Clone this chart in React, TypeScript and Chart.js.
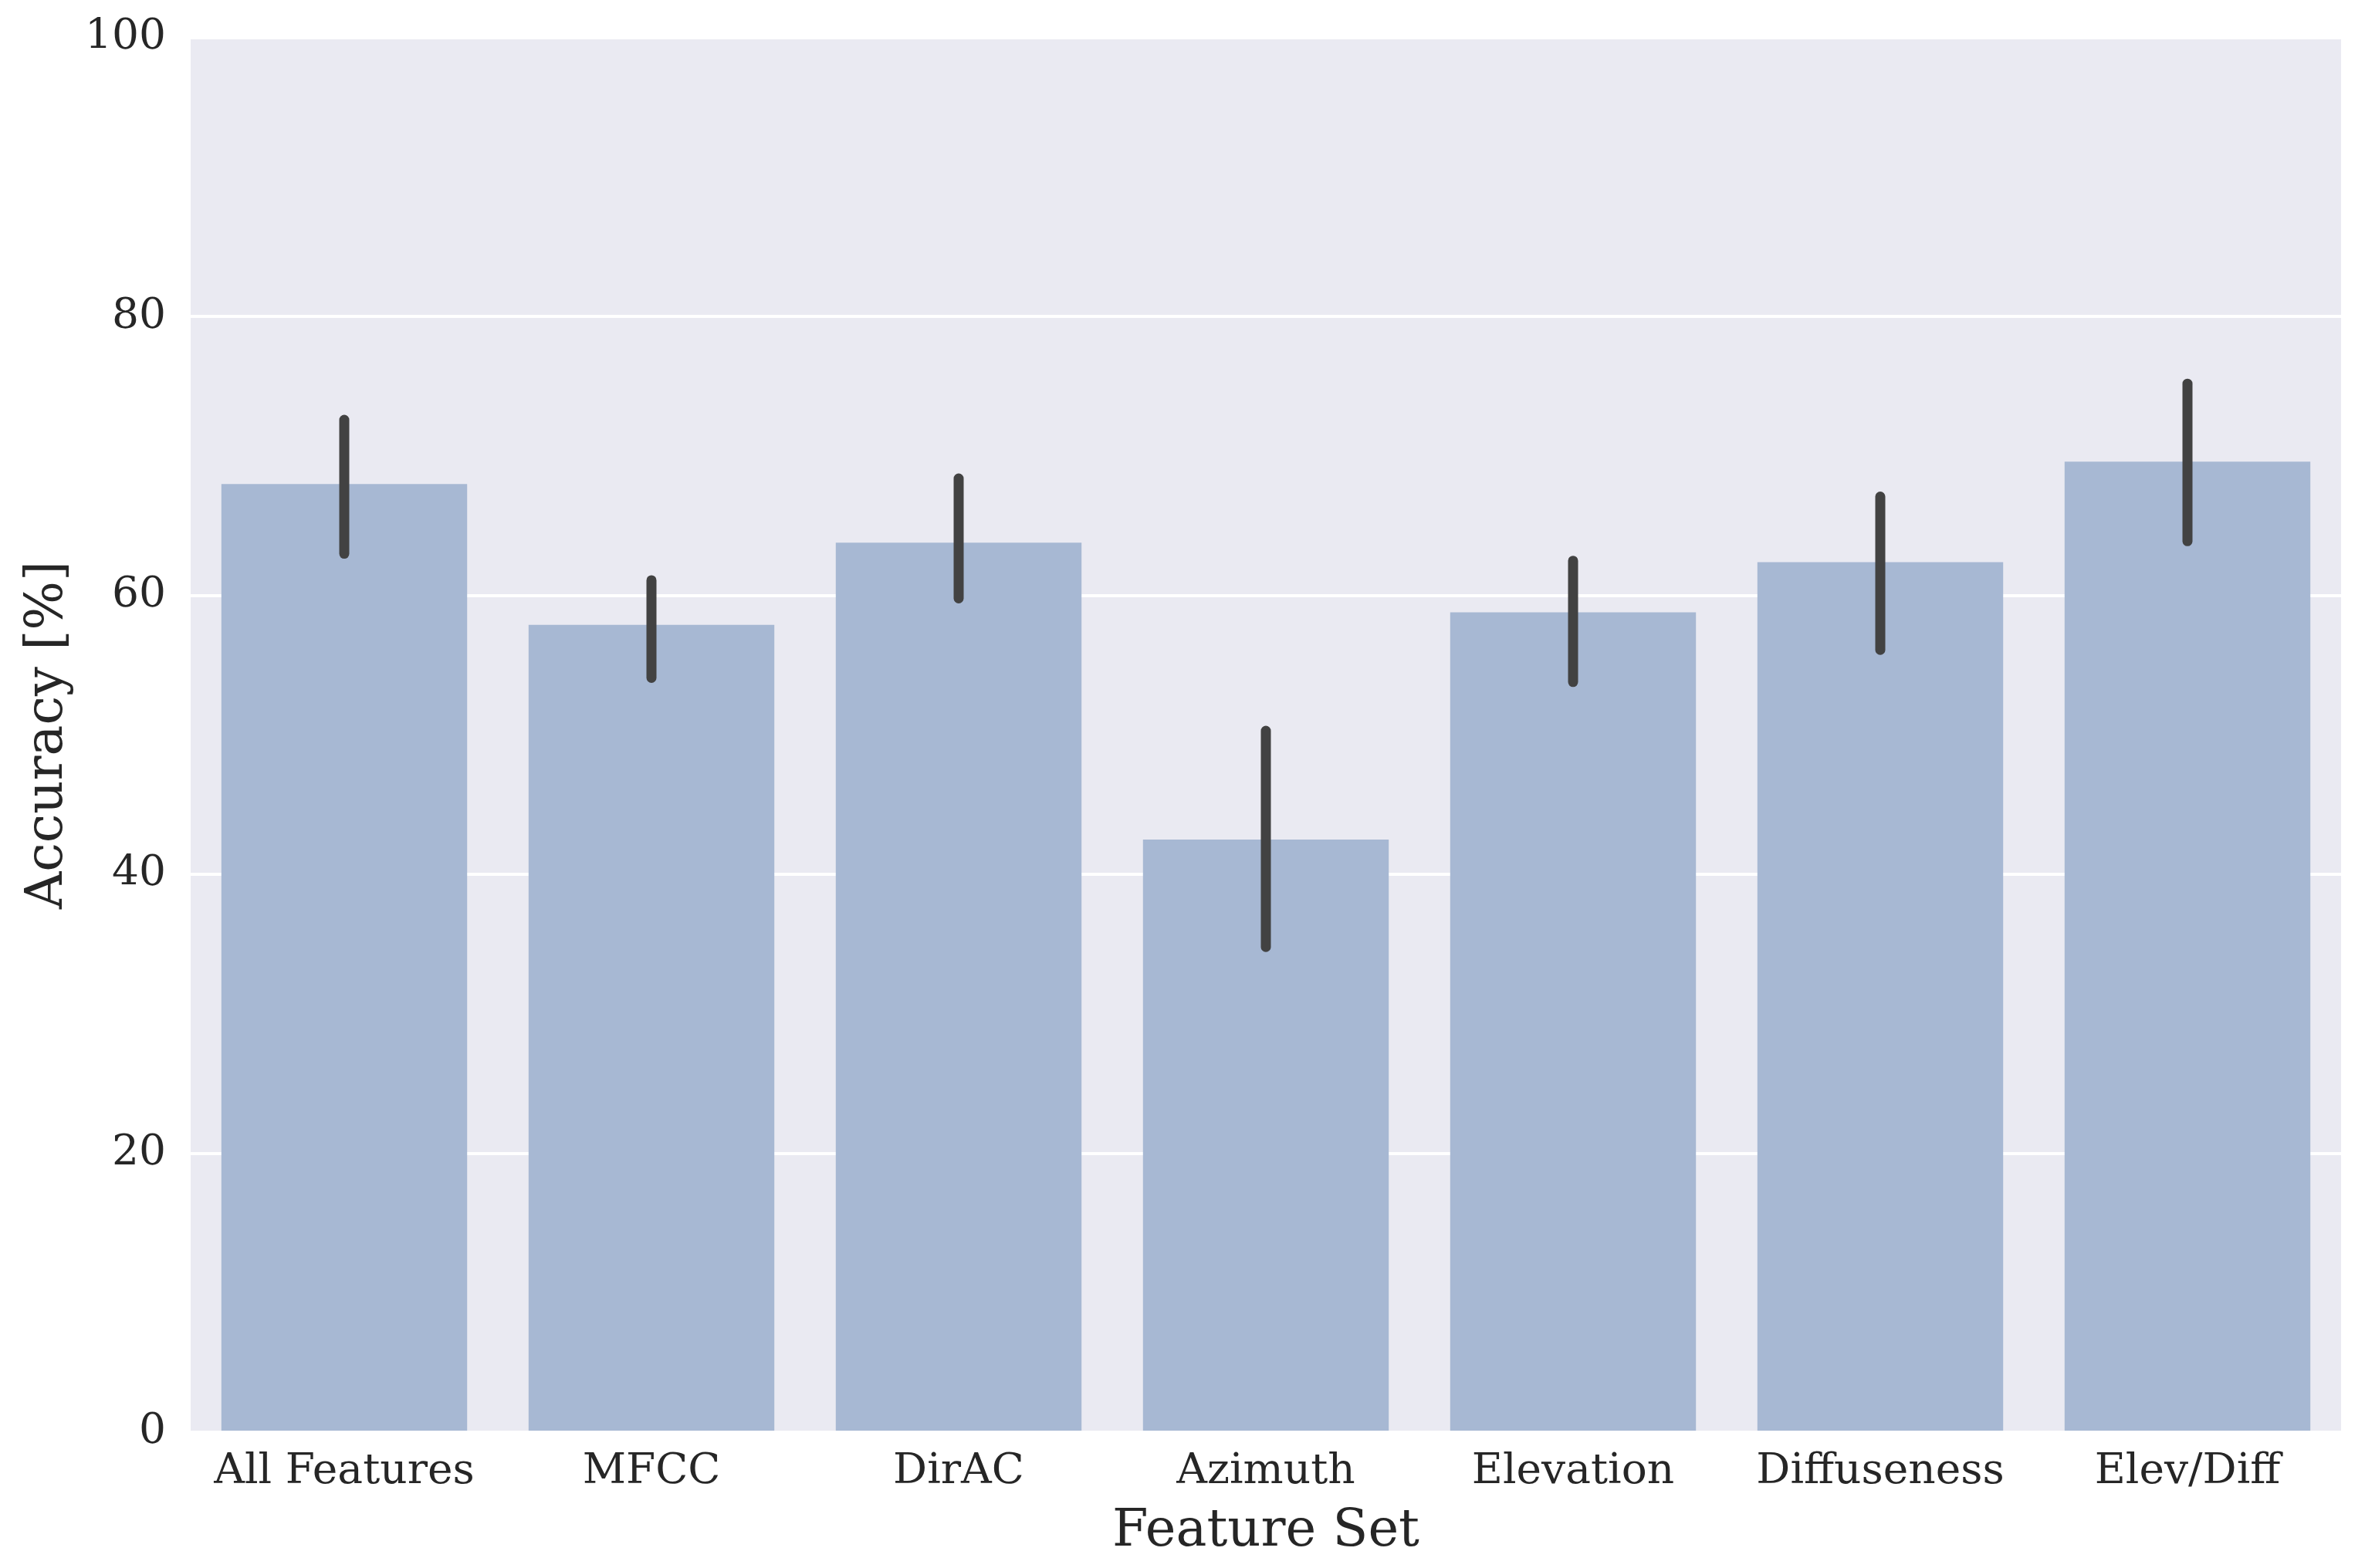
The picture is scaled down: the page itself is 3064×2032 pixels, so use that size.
import { useEffect, useRef } from 'react'
import Chart from 'chart.js/auto'

const featureSets = ['All Features', 'MFCC', 'DirAC', 'Azimuth', 'Elevation', 'Diffuseness', 'Elev/Diff']
const accuracy = [68.0, 57.9, 63.8, 42.5, 58.8, 62.4, 69.6]
const ciLow = [63.0, 54.1, 59.8, 34.8, 53.8, 56.1, 63.9]
const ciHigh = [72.6, 61.1, 68.4, 50.3, 62.5, 67.1, 75.2]
const yTicks = [0, 20, 40, 60, 80, 100]

const FONT = "'DejaVu Serif', serif"
const TEXT = '#262626'

// seaborn-like grey panel behind the bars
const panelBg = {
  id: 'panelBg',
  beforeDraw(chart: Chart) {
    const { ctx, chartArea } = chart
    ctx.save()
    ctx.fillStyle = '#EAEAF2'
    ctx.fillRect(chartArea.left, chartArea.top, chartArea.right - chartArea.left, chartArea.bottom - chartArea.top)
    ctx.restore()
  }
}

// confidence interval lines on top of the bars
const errorBars = {
  id: 'errorBars',
  afterDatasetsDraw(chart: Chart) {
    const { ctx } = chart
    const yScale = chart.scales.y
    const meta = chart.getDatasetMeta(0)
    ctx.save()
    ctx.strokeStyle = '#424242'
    ctx.lineWidth = 13
    ctx.lineCap = 'round'
    meta.data.forEach((bar: any, i: number) => {
      ctx.beginPath()
      ctx.moveTo(bar.x, yScale.getPixelForValue(ciLow[i]))
      ctx.lineTo(bar.x, yScale.getPixelForValue(ciHigh[i]))
      ctx.stroke()
    })
    ctx.restore()
  }
}

const App = () => {
  const canvasRef = useRef<HTMLCanvasElement>(null)
  const chartRef = useRef<Chart | null>(null)

  useEffect(() => {
    document.body.style.margin = '0'
    document.body.style.overflow = 'hidden'
    if (!canvasRef.current) return
    if (chartRef.current) chartRef.current.destroy()

    chartRef.current = new Chart(canvasRef.current, {
      type: 'bar',
      data: {
        labels: featureSets,
        datasets: [{
          label: 'Accuracy',
          data: accuracy,
          backgroundColor: '#A7B8D3',
          borderWidth: 0,
          barPercentage: 1,
          categoryPercentage: 0.8
        }]
      },
      options: {
        responsive: false,
        animation: false,
        devicePixelRatio: 1,
        layout: { padding: { top: 49, right: 31, left: 0, bottom: 0 } },
        plugins: {
          legend: { display: false },
          tooltip: { enabled: false }
        },
        scales: {
          x: {
            grid: { display: false, drawTicks: false },
            border: { display: false },
            ticks: {
              color: TEXT,
              padding: 19,
              font: { family: FONT, size: 55 },
              maxRotation: 0,
              autoSkip: false
            },
            title: {
              display: true,
              text: 'Feature Set',
              color: TEXT,
              font: { family: FONT, size: 67 },
              padding: { top: 0, bottom: 6 }
            },
            afterFit: (scale: any) => {
              scale.height = 176
              scale.paddingLeft = 0
              scale.paddingRight = 0
            }
          },
          y: {
            min: 0,
            max: 100,
            afterBuildTicks: (scale: any) => {
              scale.ticks = yTicks.map((v) => ({ value: v }))
            },
            grid: { color: '#FFFFFF', lineWidth: 4, drawTicks: false },
            border: { display: false },
            ticks: {
              color: TEXT,
              padding: 32,
              font: { family: FONT, size: 55 }
            },
            title: {
              display: true,
              text: 'Accuracy [%]',
              color: TEXT,
              font: { family: FONT, size: 67 },
              padding: { top: 22, bottom: 0 }
            },
            afterFit: (scale: any) => {
              scale.width = 247
              scale.paddingTop = 0
              scale.paddingBottom = 0
            }
          }
        }
      },
      plugins: [panelBg, errorBars]
    })

    return () => {
      if (chartRef.current) {
        chartRef.current.destroy()
        chartRef.current = null
      }
    }
  }, [])

  return (
    <div style={{ width: 3064, height: 2032, background: '#FFFFFF' }}>
      <canvas ref={canvasRef} width={3064} height={2032} style={{ display: 'block', width: 3064, height: 2032 }}></canvas>
    </div>
  )
}

export default App
